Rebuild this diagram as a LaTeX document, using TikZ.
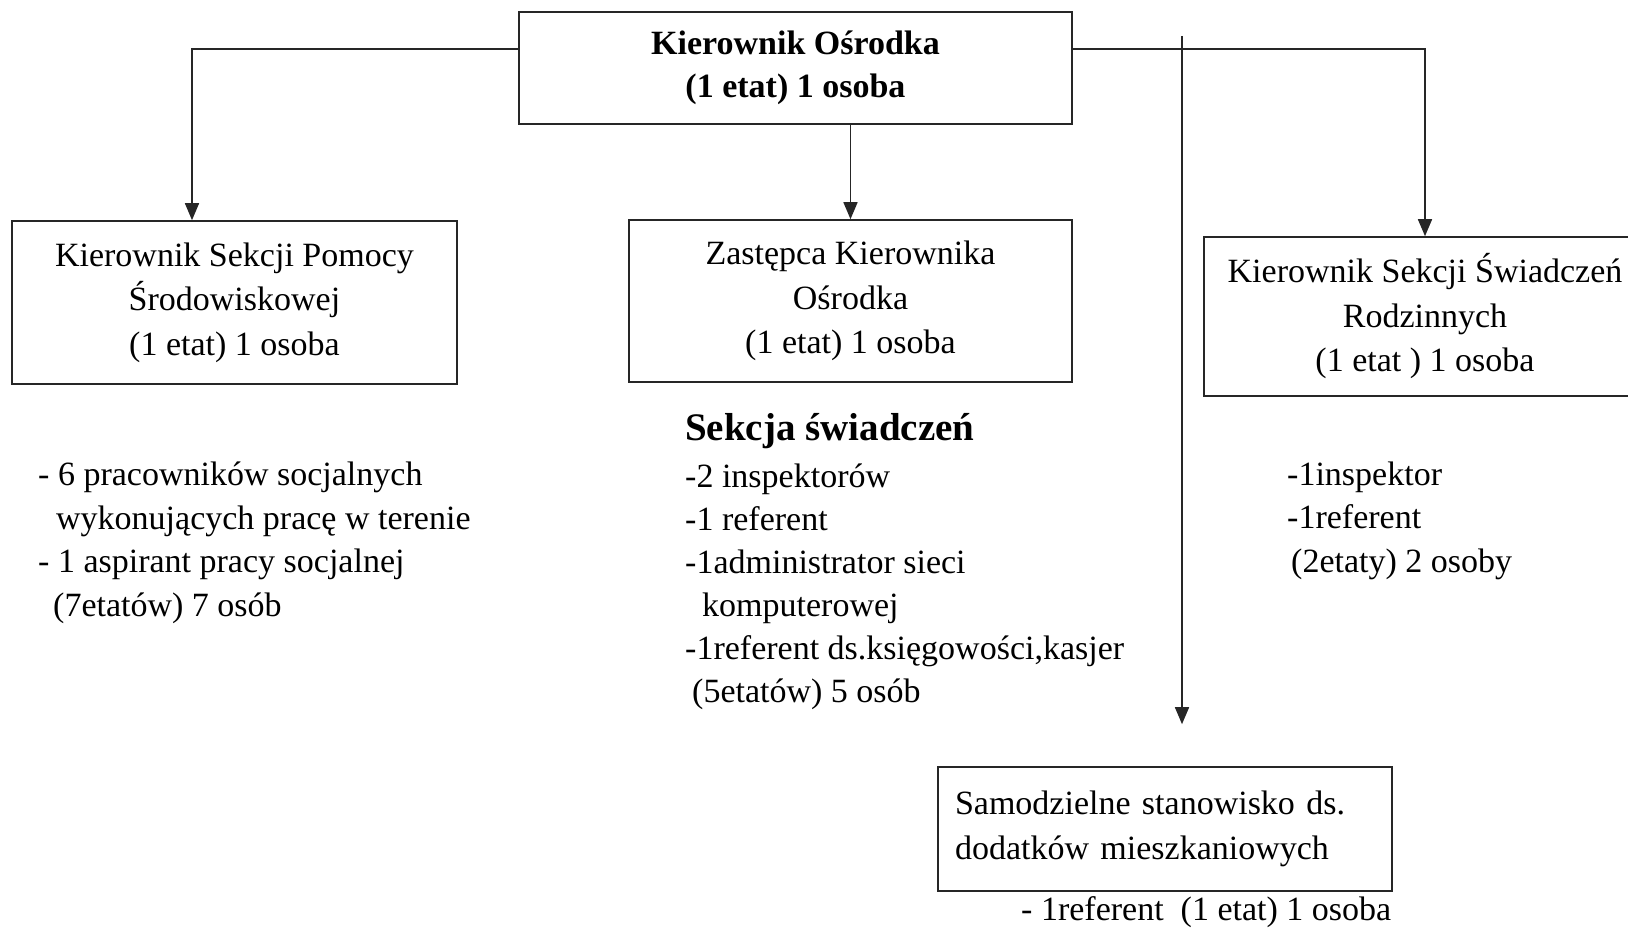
\documentclass[tikz,border=0pt]{standalone}
\usepackage{fontspec}
\setmainfont{Liberation Serif}
\usetikzlibrary{arrows.meta}
\begin{document}
\begin{tikzpicture}[x=1pt,y=-1pt,
  box/.style={draw=black!85,line width=1.6pt,inner sep=0pt,align=center,font=\fontsize{34}{44.5}\selectfont},
  lst/.style={inner sep=0pt,align=left,anchor=base west,font=\fontsize{34}{43.5}\selectfont},
  arr/.style={line width=1.6pt,draw=black!85,-{Triangle[length=17pt,width=14pt]}}]
\useasboundingbox (0,0) rectangle (1628,928);
\node[box,minimum width=553pt,minimum height=112pt,font=\bfseries\fontsize{34}{43}\selectfont] (top) at (795.5,68) {Kierownik Ośrodka\\(1 etat) 1 osoba};
\node[box,minimum width=445pt,minimum height=163pt] (lbox) at (234.5,302.5) {Kierownik Sekcji Pomocy\\Środowiskowej\\(1 etat) 1 osoba};
\node[box,minimum width=443pt,minimum height=162pt] (mbox) at (850.5,301) {Zastępca Kierownika\\Ośrodka\\(1 etat) 1 osoba};
\node[box,minimum width=442pt,minimum height=159pt] (rbox) at (1425,316.5) {Kierownik Sekcji Świadczeń\\Rodzinnych\\(1 etat ) 1 osoba};
\node[box,minimum width=454pt,minimum height=124pt,text width=420pt,align=left] (sbox) at (1165,829) {Samodzielne stanowisko ds.\\dodatków mieszkaniowych};
\draw[arr] ([yshift=19pt]top.west) -| ([xshift=-42.5pt]lbox.north);
\draw[arr] ([yshift=19pt]top.east) -| (rbox.north);
\draw[arr] (top.south -| mbox.north) -- (mbox.north);
\coordinate (vtop) at (1182,36);
\draw[arr,shorten >=42pt] (vtop) -- (vtop |- sbox.north);
\node[lst] (llist) at (38,616) {- 6 pracowników socjalnych\\\hspace*{18pt}wykonujących pracę w terenie\\- 1 aspirant pracy socjalnej\\\hspace*{15pt}(7etatów) 7 osób};
\node[lst,font=\bfseries\fontsize{39}{44}\selectfont] (mhead) at (685,440) {Sekcja świadczeń};
\node[lst,font=\fontsize{34}{43}\selectfont] (mlist) at (685,702) {-2 inspektorów\\-1 referent\\-1administrator sieci\\\hspace*{17pt}komputerowej\\-1referent ds.księgowości,kasjer\\\hspace*{7pt}(5etatów) 5 osób};
\node[lst] (rlist) at (1287,572) {-1inspektor\\-1referent\\\hspace*{4pt}(2etaty) 2 osoby};
\node[lst] (slist) at (1021,920) {- 1referent\ \ (1 etat) 1 osoba};
\end{tikzpicture}
\end{document}
